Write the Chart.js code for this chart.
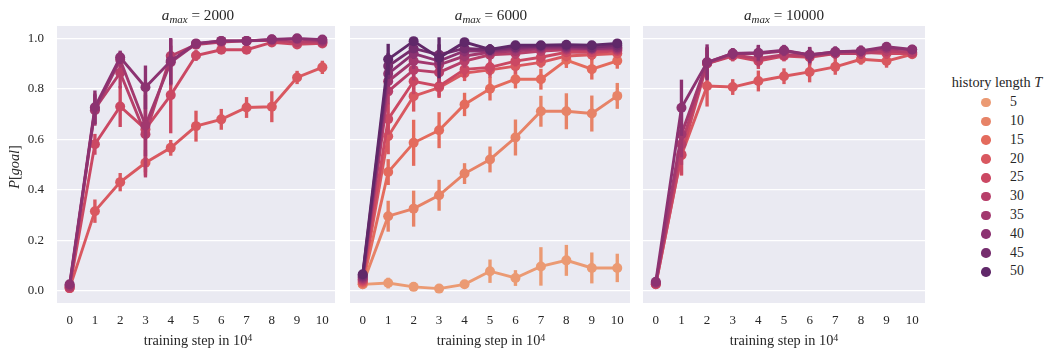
<!DOCTYPE html>
<html><head><meta charset="utf-8">
<script src="https://cdn.jsdelivr.net/npm/chart.js@4.4.1/dist/chart.umd.min.js"></script>
<style>
body{margin:0;background:#fff;}
#wrap{position:relative;width:1050px;height:350px;overflow:hidden;font-family:"Liberation Serif","DejaVu Serif",serif;color:#262626;}
canvas{position:absolute;top:0;}
.ptitle{position:absolute;top:5px;width:240px;text-align:center;font-size:15.2px;line-height:20px;white-space:nowrap;}
.ptitle sub{font-size:0.72em;vertical-align:-0.3em;line-height:0;}
.xlab{position:absolute;top:330px;width:240px;text-align:center;font-size:14.3px;line-height:20px;white-space:nowrap;}
.xlab sup{font-size:0.7em;vertical-align:0.45em;line-height:0;}
#ylab{position:absolute;left:-36px;top:157px;width:100px;text-align:center;font-size:14.3px;line-height:20px;transform:rotate(-90deg);white-space:nowrap;}
#legtitle{position:absolute;left:930px;top:72px;width:134px;text-align:center;font-size:14.3px;line-height:20px;white-space:nowrap;}
#legrows{position:absolute;left:930px;top:93.3px;width:120px;}
.lrow{position:relative;height:18.8px;}
.ldot{position:absolute;left:51px;top:4.6px;width:9.6px;height:9.6px;border-radius:50%;}
.llab{position:absolute;left:80px;top:0;line-height:18.8px;font-size:13.8px;}
</style></head>
<body>
<div id="wrap">
  <canvas id="c1" width="340" height="350" style="left:0px;width:340px;height:350px"></canvas>
  <canvas id="c2" width="295" height="350" style="left:340px;width:295px;height:350px"></canvas>
  <canvas id="c3" width="295" height="350" style="left:635px;width:295px;height:350px"></canvas>
  <div class="ptitle" style="left:78px"><i>a</i><sub><i>max</i></sub> = 2000</div>
  <div class="ptitle" style="left:371px"><i>a</i><sub><i>max</i></sub> = 6000</div>
  <div class="ptitle" style="left:664px"><i>a</i><sub><i>max</i></sub> = 10000</div>
  <div class="xlab" style="left:78px">training step in 10<sup>4</sup></div>
  <div class="xlab" style="left:371px">training step in 10<sup>4</sup></div>
  <div class="xlab" style="left:664px">training step in 10<sup>4</sup></div>
  <div id="ylab"><i>P</i>[<i>goal</i>]</div>
  <div id="legtitle">history length <i>T</i></div>
  <div id="legrows"></div>
</div>
<script>
// ---- categories / ticks ----
const steps = [0,1,2,3,4,5,6,7,8,9,10];
const historyLengths = [5,10,15,20,25,30,35,40,45,50];
const palette = ['#eb9a73','#e78367','#e46b5d','#d95860','#cb4863','#b73f6a','#a2386e','#8c3271','#762d6e','#602869'];
const yTicks = [0,0.2,0.4,0.6,0.8,1.0];

// ---- a_max = 2000 ----
const mean_2000_T20 = [0.010,0.315,0.430,0.507,0.566,0.652,0.679,0.726,0.729,0.845,0.885];
const err_2000_T20  = [0.010,0.045,0.035,0.050,0.030,0.060,0.040,0.040,0.060,0.025,0.025];
const mean_2000_T25 = [0.010,0.580,0.730,0.640,0.775,0.932,0.955,0.955,0.984,0.976,0.980];
const err_2000_T25  = [0.010,0.040,0.080,0.170,0.150,0.020,0.015,0.015,0.008,0.010,0.010];
const mean_2000_T30 = [0.015,0.720,0.864,0.620,0.930,0.975,0.985,0.990,0.992,0.985,0.985];
const err_2000_T30  = [0.010,0.060,0.060,0.170,0.040,0.010,0.010,0.010,0.005,0.010,0.010];
const mean_2000_T35 = [0.020,0.715,0.915,0.655,0.905,0.978,0.990,0.990,0.995,0.997,0.990];
const err_2000_T35  = [0.010,0.060,0.030,0.120,0.090,0.010,0.010,0.010,0.005,0.005,0.005];
const mean_2000_T40 = [0.025,0.727,0.925,0.806,0.910,0.980,0.990,0.990,0.996,1.000,0.995];
const err_2000_T40  = [0.010,0.065,0.025,0.085,0.090,0.010,0.010,0.008,0.005,0.005,0.005];

// ---- a_max = 6000 ----
const mean_6000_T5  = [0.025,0.030,0.015,0.008,0.025,0.077,0.050,0.096,0.120,0.090,0.090];
const err_6000_T5   = [0.010,0.020,0.010,0.010,0.015,0.045,0.030,0.075,0.060,0.060,0.055];
const mean_6000_T10 = [0.025,0.295,0.325,0.378,0.464,0.520,0.607,0.711,0.711,0.702,0.772];
const err_6000_T10  = [0.010,0.060,0.070,0.060,0.040,0.050,0.070,0.060,0.070,0.070,0.050];
const mean_6000_T15 = [0.030,0.470,0.586,0.636,0.738,0.800,0.838,0.838,0.914,0.878,0.911];
const err_6000_T15  = [0.010,0.050,0.090,0.070,0.045,0.045,0.035,0.040,0.030,0.040,0.030];
const mean_6000_T20 = [0.035,0.612,0.771,0.805,0.862,0.875,0.890,0.905,0.930,0.935,0.940];
const err_6000_T20  = [0.010,0.070,0.060,0.040,0.030,0.030,0.030,0.020,0.020,0.020,0.015];
const mean_6000_T25 = [0.040,0.680,0.830,0.810,0.877,0.885,0.910,0.925,0.945,0.945,0.950];
const err_6000_T25  = [0.010,0.060,0.050,0.040,0.030,0.030,0.020,0.020,0.015,0.015,0.015];
const mean_6000_T30 = [0.045,0.790,0.875,0.865,0.910,0.935,0.940,0.950,0.955,0.955,0.955];
const err_6000_T30  = [0.010,0.050,0.040,0.040,0.025,0.020,0.020,0.015,0.015,0.015,0.012];
const mean_6000_T35 = [0.050,0.830,0.910,0.895,0.930,0.945,0.950,0.960,0.960,0.960,0.960];
const err_6000_T35  = [0.010,0.050,0.030,0.040,0.020,0.020,0.015,0.012,0.012,0.012,0.010];
const mean_6000_T40 = [0.055,0.860,0.940,0.910,0.950,0.950,0.960,0.965,0.965,0.960,0.965];
const err_6000_T40  = [0.010,0.050,0.020,0.040,0.020,0.015,0.012,0.010,0.010,0.010,0.010];
const mean_6000_T45 = [0.060,0.890,0.960,0.935,0.960,0.955,0.965,0.970,0.970,0.965,0.972];
const err_6000_T45  = [0.010,0.050,0.015,0.040,0.015,0.015,0.010,0.010,0.010,0.010,0.010];
const mean_6000_T50 = [0.065,0.917,0.989,0.923,0.985,0.956,0.973,0.973,0.975,0.973,0.980];
const err_6000_T50  = [0.010,0.060,0.010,0.080,0.010,0.020,0.010,0.010,0.010,0.010,0.010];

// ---- a_max = 10000 ----
const mean_10000_T20 = [0.025,0.537,0.811,0.807,0.831,0.850,0.867,0.887,0.917,0.910,0.937];
const err_10000_T20  = [0.010,0.080,0.080,0.030,0.040,0.030,0.040,0.030,0.020,0.025,0.015];
const mean_10000_T25 = [0.025,0.540,0.900,0.930,0.910,0.930,0.925,0.940,0.945,0.940,0.940];
const err_10000_T25  = [0.010,0.080,0.060,0.020,0.030,0.020,0.030,0.020,0.020,0.020,0.015];
const mean_10000_T30 = [0.030,0.580,0.900,0.935,0.920,0.935,0.930,0.940,0.940,0.950,0.945];
const err_10000_T30  = [0.010,0.080,0.060,0.020,0.030,0.020,0.030,0.020,0.020,0.020,0.015];
const mean_10000_T35 = [0.030,0.620,0.905,0.940,0.940,0.950,0.935,0.945,0.950,0.960,0.955];
const err_10000_T35  = [0.010,0.090,0.060,0.020,0.030,0.020,0.030,0.020,0.020,0.015,0.015];
const mean_10000_T40 = [0.035,0.725,0.905,0.940,0.943,0.953,0.934,0.947,0.950,0.967,0.956];
const err_10000_T40  = [0.010,0.110,0.070,0.020,0.030,0.020,0.030,0.020,0.020,0.015,0.015];

const panels = [
  {id:'c1', canvasLeft:0,   canvasWidth:340, plotLeft:57,  plotRight:339, showY:true,
   series:[[20,mean_2000_T20,err_2000_T20],[25,mean_2000_T25,err_2000_T25],[30,mean_2000_T30,err_2000_T30],[35,mean_2000_T35,err_2000_T35],[40,mean_2000_T40,err_2000_T40]]},
  {id:'c2', canvasLeft:340, canvasWidth:295, plotLeft:350, plotRight:632, showY:false,
   series:[[5,mean_6000_T5,err_6000_T5],[10,mean_6000_T10,err_6000_T10],[15,mean_6000_T15,err_6000_T15],[20,mean_6000_T20,err_6000_T20],[25,mean_6000_T25,err_6000_T25],[30,mean_6000_T30,err_6000_T30],[35,mean_6000_T35,err_6000_T35],[40,mean_6000_T40,err_6000_T40],[45,mean_6000_T45,err_6000_T45],[50,mean_6000_T50,err_6000_T50]]},
  {id:'c3', canvasLeft:635, canvasWidth:295, plotLeft:643, plotRight:925, showY:false,
   series:[[20,mean_10000_T20,err_10000_T20],[25,mean_10000_T25,err_10000_T25],[30,mean_10000_T30,err_10000_T30],[35,mean_10000_T35,err_10000_T35],[40,mean_10000_T40,err_10000_T40]]}
];

const bgPlugin = {
  id:'bg',
  beforeDraw(chart){
    const a = chart.chartArea, ctx = chart.ctx;
    ctx.save(); ctx.fillStyle = '#eaeaf2';
    ctx.fillRect(a.left, a.top, a.right - a.left, a.bottom - a.top);
    ctx.restore();
  }
};

const tickFont = {family:'"Liberation Serif", "DejaVu Serif", serif', size:13};

panels.forEach(p => {
  const datasets = [];
  p.series.forEach(([T, mean, err]) => {
    const h = historyLengths.indexOf(T);
    const color = palette[h];
    datasets.push({
      type:'line', label:'T=' + T, data: mean,
      borderColor:color, backgroundColor:color, borderWidth:2.9,
      pointRadius:5, pointHoverRadius:5, pointBorderWidth:0,
      pointBackgroundColor:color, tension:0, order: 200 - 2*h
    });
    datasets.push({
      type:'bar', label:'ci T=' + T, data: mean.map((m,i) => [m - err[i], m + err[i]]),
      backgroundColor:color, borderWidth:0, barThickness:2.7, grouped:false,
      order: 201 - 2*h
    });
  });
  new Chart(document.getElementById(p.id), {
    type:'line',
    data:{labels: steps.map(String), datasets},
    plugins:[bgPlugin],
    options:{
      responsive:false, animation:false, devicePixelRatio:1,
      events:[],
      layout:{padding:{left:0, right:p.canvasWidth - (p.plotRight - p.canvasLeft), top:26, bottom:0}},
      plugins:{legend:{display:false}, tooltip:{enabled:false}, title:{display:false}},
      scales:{
        x:{type:'category', offset:true,
           grid:{display:false, drawTicks:false}, border:{display:false},
           ticks:{font:tickFont, color:'#262626', padding:10, maxRotation:0, autoSkip:false},
           afterFit(s){ s.height = 47; }},
        y:{type:'linear', min:-0.049, max:1.049,
           afterBuildTicks(s){ s.ticks = yTicks.map(v => ({value:v})); },
           grid:{color:'#ffffff', lineWidth:1.3, drawTicks:false}, border:{display:false},
           ticks:{display:p.showY, font:tickFont, color:'#262626', padding:13,
                  callback:(v) => Number(v).toFixed(1)},
           afterFit(s){ s.width = p.plotLeft - p.canvasLeft; }}
      }
    }
  });
});

// ---- legend ----
const rows = document.getElementById('legrows');
historyLengths.forEach((T, i) => {
  const r = document.createElement('div'); r.className = 'lrow';
  const d = document.createElement('span'); d.className = 'ldot'; d.style.background = palette[i];
  const l = document.createElement('span'); l.className = 'llab'; l.textContent = String(T);
  r.appendChild(d); r.appendChild(l); rows.appendChild(r);
});
</script>
</body></html>
